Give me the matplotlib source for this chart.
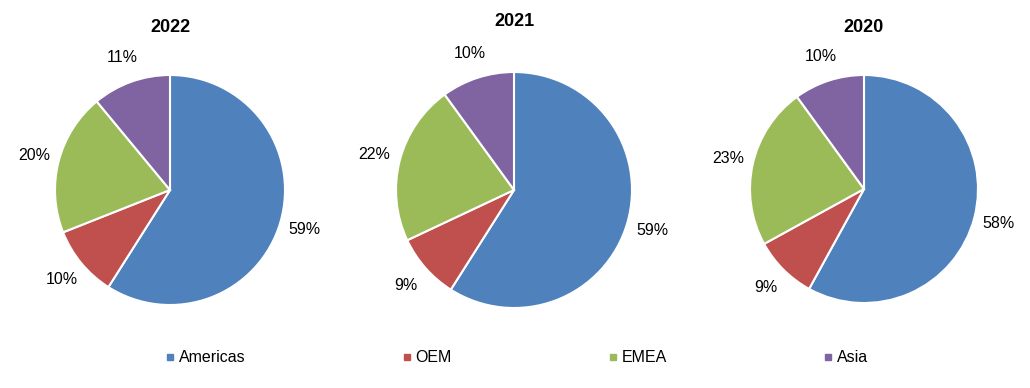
import matplotlib
matplotlib.use('Agg')
import matplotlib.pyplot as plt
from matplotlib.lines import Line2D

plt.rcParams['font.family'] = ['Liberation Sans', 'DejaVu Sans']

# data
regions = ['Americas', 'OEM', 'EMEA', 'Asia']
colors = ['#4F81BD', '#C0504D', '#9BBB59', '#8064A2']
years = ['2022', '2021', '2020']
share_2022 = [59, 10, 20, 11]
share_2021 = [59, 9, 22, 10]
share_2020 = [58, 9, 23, 10]
shares = [share_2022, share_2021, share_2020]

W, H = 1030, 388
fig = plt.figure(figsize=(W / 100, H / 100), dpi=100, facecolor='white')

# pie centres / radii in pixels, title y in pixels
centres = [(170, 190, 115), (514, 190, 118), (864, 189, 114)]
title_y = [28, 22, 28]

for (cx, cy, r), yr, vals, ty in zip(centres, years, shares, title_y):
    ax = fig.add_axes([(cx - r) / W, (H - cy - r) / H, 2 * r / W, 2 * r / H])
    wedges, texts = ax.pie(vals, colors=colors, startangle=90, counterclock=False,
                           labels=[f'{v}%' for v in vals], labeldistance=1.22,
                           wedgeprops=dict(edgecolor='white', linewidth=1.5),
                           textprops=dict(fontsize=11.5, color='black'))
    for t in texts:
        t.set_ha('center')
        t.set_va('center')
        t.set_clip_on(False)
    ax.set_xlim(-1, 1)
    ax.set_ylim(-1, 1)
    ax.set_aspect('auto')
    fig.text(cx / W, 1 - ty / H, yr, ha='center', va='center',
             fontsize=13, fontweight='bold')

handles = [Line2D([], [], marker='s', linestyle='none', markersize=5,
                  markerfacecolor=c, markeredgecolor=c) for c in colors]
fig.legend(handles, regions, loc='center', bbox_to_anchor=(0.502, 1 - 358 / H),
           ncol=4, frameon=False, fontsize=11.5, handlelength=0.5,
           handletextpad=0.3, columnspacing=9.85)

fig.savefig('out.png', dpi=100, facecolor='white')
